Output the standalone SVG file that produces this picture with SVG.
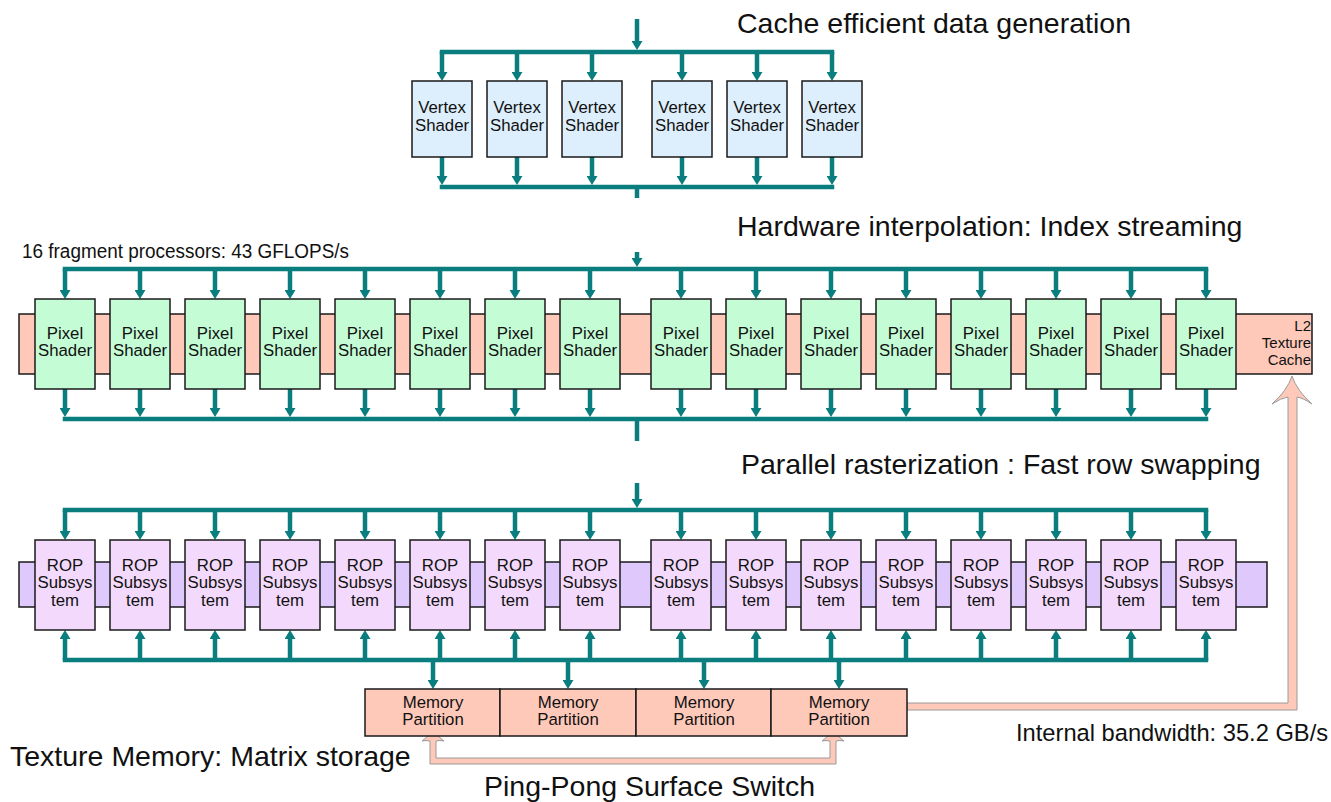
<svg xmlns="http://www.w3.org/2000/svg" width="1331" height="802" viewBox="0 0 1331 802">
<style>
text{font-family:"Liberation Sans",Arial,sans-serif;fill:#111}
.h{font-size:28.5px}
.s{font-size:16.8px;text-anchor:middle}
.box{stroke:#1a1a1a;stroke-width:1.5}
.vs{fill:#DDEEFC}
.ps{fill:#C4FCD6}
.rop{fill:#F3DAFC}
.sal{fill:#FFC9BA}
.conn line{stroke:#0A7E7E;stroke-width:4.5;fill:none}
.conn .a{marker-end:url(#ah)}
</style>
<defs>
<marker id="ah" markerUnits="userSpaceOnUse" viewBox="0 0 9 11" markerWidth="9" markerHeight="11" refX="5" refY="5.5" orient="auto">
<path d="M0,0 L9,5.5 L0,11 Z" fill="#0A7E7E"/>
</marker>
</defs>

<!-- background bars -->
<g id="pixel-bar"><rect class="box sal" x="19" y="314" width="1293" height="60"/></g>
<g id="rop-bar"><rect class="box" fill="#DFC8FC" x="19" y="562" width="1248" height="45"/></g>

<!-- salmon arrows -->
<g id="bandwidth-arrow">
<path d="M907,703 H1288 V397 Q1281,398 1272,404 Q1287,391 1292,376 Q1297,391 1312,404 Q1303,398 1297,397 V710 H907 Z" fill="#FFC9BA" stroke="#9a9a9a" stroke-width="1"/>
</g>
<g id="pingpong-arrow">
<path d="M430,764 V741 Q426,740 422,741 Q430,736 433,729 Q436,736 444,741 Q440,740 436,741 V758 H830 V741 Q826,740 822,741 Q830,736 833,729 Q836,736 844,741 Q840,740 836,741 V764 Z" fill="#FFC9BA" stroke="#9a9a9a" stroke-width="1"/>
</g>

<!-- connectors -->
<g id="connectors" class="conn">
<!-- vertex top -->
<line class="a" x1="637" y1="19" x2="637" y2="46"/>
<line x1="439.75" y1="52" x2="834.25" y2="52"/>
<line class="a" x1="442" y1="52" x2="442" y2="77"/>
<line class="a" x1="517" y1="52" x2="517" y2="77"/>
<line class="a" x1="592" y1="52" x2="592" y2="77"/>
<line class="a" x1="682" y1="52" x2="682" y2="77"/>
<line class="a" x1="757" y1="52" x2="757" y2="77"/>
<line class="a" x1="832" y1="52" x2="832" y2="77"/>
<!-- vertex bottom -->
<line class="a" x1="442" y1="157" x2="442" y2="181"/>
<line class="a" x1="517" y1="157" x2="517" y2="181"/>
<line class="a" x1="592" y1="157" x2="592" y2="181"/>
<line class="a" x1="682" y1="157" x2="682" y2="181"/>
<line class="a" x1="757" y1="157" x2="757" y2="181"/>
<line class="a" x1="832" y1="157" x2="832" y2="181"/>
<line x1="439.75" y1="187" x2="834.25" y2="187"/>
<line x1="637" y1="187" x2="637" y2="198"/>

<!-- pixel top -->
<line class="a" x1="637" y1="252" x2="637" y2="263"/>
<line x1="62.75" y1="269" x2="1208.25" y2="269"/>
<line class="a" x1="65" y1="269" x2="65" y2="295"/>
<line class="a" x1="140" y1="269" x2="140" y2="295"/>
<line class="a" x1="215" y1="269" x2="215" y2="295"/>
<line class="a" x1="290" y1="269" x2="290" y2="295"/>
<line class="a" x1="365" y1="269" x2="365" y2="295"/>
<line class="a" x1="440" y1="269" x2="440" y2="295"/>
<line class="a" x1="515" y1="269" x2="515" y2="295"/>
<line class="a" x1="590" y1="269" x2="590" y2="295"/>
<line class="a" x1="681" y1="269" x2="681" y2="295"/>
<line class="a" x1="756" y1="269" x2="756" y2="295"/>
<line class="a" x1="831" y1="269" x2="831" y2="295"/>
<line class="a" x1="906" y1="269" x2="906" y2="295"/>
<line class="a" x1="981" y1="269" x2="981" y2="295"/>
<line class="a" x1="1056" y1="269" x2="1056" y2="295"/>
<line class="a" x1="1131" y1="269" x2="1131" y2="295"/>
<line class="a" x1="1206" y1="269" x2="1206" y2="295"/>
<!-- pixel bottom -->
<line class="a" x1="65" y1="389" x2="65" y2="413"/>
<line class="a" x1="140" y1="389" x2="140" y2="413"/>
<line class="a" x1="215" y1="389" x2="215" y2="413"/>
<line class="a" x1="290" y1="389" x2="290" y2="413"/>
<line class="a" x1="365" y1="389" x2="365" y2="413"/>
<line class="a" x1="440" y1="389" x2="440" y2="413"/>
<line class="a" x1="515" y1="389" x2="515" y2="413"/>
<line class="a" x1="590" y1="389" x2="590" y2="413"/>
<line class="a" x1="681" y1="389" x2="681" y2="413"/>
<line class="a" x1="756" y1="389" x2="756" y2="413"/>
<line class="a" x1="831" y1="389" x2="831" y2="413"/>
<line class="a" x1="906" y1="389" x2="906" y2="413"/>
<line class="a" x1="981" y1="389" x2="981" y2="413"/>
<line class="a" x1="1056" y1="389" x2="1056" y2="413"/>
<line class="a" x1="1131" y1="389" x2="1131" y2="413"/>
<line class="a" x1="1206" y1="389" x2="1206" y2="413"/>
<line x1="62.75" y1="419" x2="1208.25" y2="419"/>
<line x1="637" y1="419" x2="637" y2="441"/>

<!-- ROP top -->
<line class="a" x1="637" y1="483" x2="637" y2="504"/>
<line x1="62.75" y1="510" x2="1208.25" y2="510"/>
<line class="a" x1="65" y1="510" x2="65" y2="536"/>
<line class="a" x1="140" y1="510" x2="140" y2="536"/>
<line class="a" x1="215" y1="510" x2="215" y2="536"/>
<line class="a" x1="290" y1="510" x2="290" y2="536"/>
<line class="a" x1="365" y1="510" x2="365" y2="536"/>
<line class="a" x1="440" y1="510" x2="440" y2="536"/>
<line class="a" x1="515" y1="510" x2="515" y2="536"/>
<line class="a" x1="590" y1="510" x2="590" y2="536"/>
<line class="a" x1="681" y1="510" x2="681" y2="536"/>
<line class="a" x1="756" y1="510" x2="756" y2="536"/>
<line class="a" x1="831" y1="510" x2="831" y2="536"/>
<line class="a" x1="906" y1="510" x2="906" y2="536"/>
<line class="a" x1="981" y1="510" x2="981" y2="536"/>
<line class="a" x1="1056" y1="510" x2="1056" y2="536"/>
<line class="a" x1="1131" y1="510" x2="1131" y2="536"/>
<line class="a" x1="1206" y1="510" x2="1206" y2="536"/>
<!-- ROP bottom (arrows up) -->
<line x1="62.75" y1="660" x2="1208.25" y2="660"/>
<line class="a" x1="65" y1="660" x2="65" y2="634"/>
<line class="a" x1="140" y1="660" x2="140" y2="634"/>
<line class="a" x1="215" y1="660" x2="215" y2="634"/>
<line class="a" x1="290" y1="660" x2="290" y2="634"/>
<line class="a" x1="365" y1="660" x2="365" y2="634"/>
<line class="a" x1="440" y1="660" x2="440" y2="634"/>
<line class="a" x1="515" y1="660" x2="515" y2="634"/>
<line class="a" x1="590" y1="660" x2="590" y2="634"/>
<line class="a" x1="681" y1="660" x2="681" y2="634"/>
<line class="a" x1="756" y1="660" x2="756" y2="634"/>
<line class="a" x1="831" y1="660" x2="831" y2="634"/>
<line class="a" x1="906" y1="660" x2="906" y2="634"/>
<line class="a" x1="981" y1="660" x2="981" y2="634"/>
<line class="a" x1="1056" y1="660" x2="1056" y2="634"/>
<line class="a" x1="1131" y1="660" x2="1131" y2="634"/>
<line class="a" x1="1206" y1="660" x2="1206" y2="634"/>
<!-- to memory -->
<line class="a" x1="433" y1="660" x2="433" y2="685"/>
<line class="a" x1="568" y1="660" x2="568" y2="685"/>
<line class="a" x1="704" y1="660" x2="704" y2="685"/>
<line class="a" x1="839" y1="660" x2="839" y2="685"/>
</g>

<!-- Vertex shaders -->
<g id="vs1"><rect class="box vs" x="412" y="81" width="60" height="76"/><text class="s" x="442" y="113">Vertex</text><text class="s" x="442" y="131">Shader</text></g>
<g id="vs2"><rect class="box vs" x="487" y="81" width="60" height="76"/><text class="s" x="517" y="113">Vertex</text><text class="s" x="517" y="131">Shader</text></g>
<g id="vs3"><rect class="box vs" x="562" y="81" width="60" height="76"/><text class="s" x="592" y="113">Vertex</text><text class="s" x="592" y="131">Shader</text></g>
<g id="vs4"><rect class="box vs" x="652" y="81" width="60" height="76"/><text class="s" x="682" y="113">Vertex</text><text class="s" x="682" y="131">Shader</text></g>
<g id="vs5"><rect class="box vs" x="727" y="81" width="60" height="76"/><text class="s" x="757" y="113">Vertex</text><text class="s" x="757" y="131">Shader</text></g>
<g id="vs6"><rect class="box vs" x="802" y="81" width="60" height="76"/><text class="s" x="832" y="113">Vertex</text><text class="s" x="832" y="131">Shader</text></g>

<!-- Pixel shaders -->
<g id="ps1"><rect class="box ps" x="35" y="299" width="60" height="90"/><text class="s" x="65" y="339">Pixel</text><text class="s" x="65" y="356">Shader</text></g>
<g id="ps2"><rect class="box ps" x="110" y="299" width="60" height="90"/><text class="s" x="140" y="339">Pixel</text><text class="s" x="140" y="356">Shader</text></g>
<g id="ps3"><rect class="box ps" x="185" y="299" width="60" height="90"/><text class="s" x="215" y="339">Pixel</text><text class="s" x="215" y="356">Shader</text></g>
<g id="ps4"><rect class="box ps" x="260" y="299" width="60" height="90"/><text class="s" x="290" y="339">Pixel</text><text class="s" x="290" y="356">Shader</text></g>
<g id="ps5"><rect class="box ps" x="335" y="299" width="60" height="90"/><text class="s" x="365" y="339">Pixel</text><text class="s" x="365" y="356">Shader</text></g>
<g id="ps6"><rect class="box ps" x="410" y="299" width="60" height="90"/><text class="s" x="440" y="339">Pixel</text><text class="s" x="440" y="356">Shader</text></g>
<g id="ps7"><rect class="box ps" x="485" y="299" width="60" height="90"/><text class="s" x="515" y="339">Pixel</text><text class="s" x="515" y="356">Shader</text></g>
<g id="ps8"><rect class="box ps" x="560" y="299" width="60" height="90"/><text class="s" x="590" y="339">Pixel</text><text class="s" x="590" y="356">Shader</text></g>
<g id="ps9"><rect class="box ps" x="651" y="299" width="60" height="90"/><text class="s" x="681" y="339">Pixel</text><text class="s" x="681" y="356">Shader</text></g>
<g id="ps10"><rect class="box ps" x="726" y="299" width="60" height="90"/><text class="s" x="756" y="339">Pixel</text><text class="s" x="756" y="356">Shader</text></g>
<g id="ps11"><rect class="box ps" x="801" y="299" width="60" height="90"/><text class="s" x="831" y="339">Pixel</text><text class="s" x="831" y="356">Shader</text></g>
<g id="ps12"><rect class="box ps" x="876" y="299" width="60" height="90"/><text class="s" x="906" y="339">Pixel</text><text class="s" x="906" y="356">Shader</text></g>
<g id="ps13"><rect class="box ps" x="951" y="299" width="60" height="90"/><text class="s" x="981" y="339">Pixel</text><text class="s" x="981" y="356">Shader</text></g>
<g id="ps14"><rect class="box ps" x="1026" y="299" width="60" height="90"/><text class="s" x="1056" y="339">Pixel</text><text class="s" x="1056" y="356">Shader</text></g>
<g id="ps15"><rect class="box ps" x="1101" y="299" width="60" height="90"/><text class="s" x="1131" y="339">Pixel</text><text class="s" x="1131" y="356">Shader</text></g>
<g id="ps16"><rect class="box ps" x="1176" y="299" width="60" height="90"/><text class="s" x="1206" y="339">Pixel</text><text class="s" x="1206" y="356">Shader</text></g>

<g id="l2cache">
<text x="1311" y="331" font-size="15" text-anchor="end">L2</text>
<text x="1311" y="348" font-size="15" text-anchor="end">Texture</text>
<text x="1311" y="365" font-size="15" text-anchor="end">Cache</text>
</g>

<!-- ROP subsystems -->
<g id="rop1"><rect class="box rop" x="35" y="540" width="60" height="90"/><text class="s" x="65" y="571">ROP</text><text class="s" x="65" y="588">Subsys</text><text class="s" x="65" y="606">tem</text></g>
<g id="rop2"><rect class="box rop" x="110" y="540" width="60" height="90"/><text class="s" x="140" y="571">ROP</text><text class="s" x="140" y="588">Subsys</text><text class="s" x="140" y="606">tem</text></g>
<g id="rop3"><rect class="box rop" x="185" y="540" width="60" height="90"/><text class="s" x="215" y="571">ROP</text><text class="s" x="215" y="588">Subsys</text><text class="s" x="215" y="606">tem</text></g>
<g id="rop4"><rect class="box rop" x="260" y="540" width="60" height="90"/><text class="s" x="290" y="571">ROP</text><text class="s" x="290" y="588">Subsys</text><text class="s" x="290" y="606">tem</text></g>
<g id="rop5"><rect class="box rop" x="335" y="540" width="60" height="90"/><text class="s" x="365" y="571">ROP</text><text class="s" x="365" y="588">Subsys</text><text class="s" x="365" y="606">tem</text></g>
<g id="rop6"><rect class="box rop" x="410" y="540" width="60" height="90"/><text class="s" x="440" y="571">ROP</text><text class="s" x="440" y="588">Subsys</text><text class="s" x="440" y="606">tem</text></g>
<g id="rop7"><rect class="box rop" x="485" y="540" width="60" height="90"/><text class="s" x="515" y="571">ROP</text><text class="s" x="515" y="588">Subsys</text><text class="s" x="515" y="606">tem</text></g>
<g id="rop8"><rect class="box rop" x="560" y="540" width="60" height="90"/><text class="s" x="590" y="571">ROP</text><text class="s" x="590" y="588">Subsys</text><text class="s" x="590" y="606">tem</text></g>
<g id="rop9"><rect class="box rop" x="651" y="540" width="60" height="90"/><text class="s" x="681" y="571">ROP</text><text class="s" x="681" y="588">Subsys</text><text class="s" x="681" y="606">tem</text></g>
<g id="rop10"><rect class="box rop" x="726" y="540" width="60" height="90"/><text class="s" x="756" y="571">ROP</text><text class="s" x="756" y="588">Subsys</text><text class="s" x="756" y="606">tem</text></g>
<g id="rop11"><rect class="box rop" x="801" y="540" width="60" height="90"/><text class="s" x="831" y="571">ROP</text><text class="s" x="831" y="588">Subsys</text><text class="s" x="831" y="606">tem</text></g>
<g id="rop12"><rect class="box rop" x="876" y="540" width="60" height="90"/><text class="s" x="906" y="571">ROP</text><text class="s" x="906" y="588">Subsys</text><text class="s" x="906" y="606">tem</text></g>
<g id="rop13"><rect class="box rop" x="951" y="540" width="60" height="90"/><text class="s" x="981" y="571">ROP</text><text class="s" x="981" y="588">Subsys</text><text class="s" x="981" y="606">tem</text></g>
<g id="rop14"><rect class="box rop" x="1026" y="540" width="60" height="90"/><text class="s" x="1056" y="571">ROP</text><text class="s" x="1056" y="588">Subsys</text><text class="s" x="1056" y="606">tem</text></g>
<g id="rop15"><rect class="box rop" x="1101" y="540" width="60" height="90"/><text class="s" x="1131" y="571">ROP</text><text class="s" x="1131" y="588">Subsys</text><text class="s" x="1131" y="606">tem</text></g>
<g id="rop16"><rect class="box rop" x="1176" y="540" width="60" height="90"/><text class="s" x="1206" y="571">ROP</text><text class="s" x="1206" y="588">Subsys</text><text class="s" x="1206" y="606">tem</text></g>

<!-- Memory partitions -->
<g id="mem1"><rect class="box sal" x="365" y="689" width="135" height="47"/><text class="s" x="433" y="708">Memory</text><text class="s" x="433" y="725">Partition</text></g>
<g id="mem2"><rect class="box sal" x="500" y="689" width="136" height="47"/><text class="s" x="568" y="708">Memory</text><text class="s" x="568" y="725">Partition</text></g>
<g id="mem3"><rect class="box sal" x="636" y="689" width="135" height="47"/><text class="s" x="704" y="708">Memory</text><text class="s" x="704" y="725">Partition</text></g>
<g id="mem4"><rect class="box sal" x="771" y="689" width="136" height="47"/><text class="s" x="839" y="708">Memory</text><text class="s" x="839" y="725">Partition</text></g>

<!-- labels -->
<g id="labels">
<text class="h" x="737" y="33">Cache efficient data generation</text>
<text class="h" x="737" y="236">Hardware interpolation: Index streaming</text>
<text x="22" y="258" font-size="19.5" textLength="327" lengthAdjust="spacingAndGlyphs">16 fragment processors: 43 GFLOPS/s</text>
<text class="h" x="741" y="474">Parallel rasterization : Fast row swapping</text>
<text class="h" x="10" y="766">Texture Memory: Matrix storage</text>
<text class="h" x="484" y="796">Ping-Pong Surface Switch</text>
<text x="1016" y="741" font-size="23.7">Internal bandwidth: 35.2 GB/s</text>
</g>
</svg>
